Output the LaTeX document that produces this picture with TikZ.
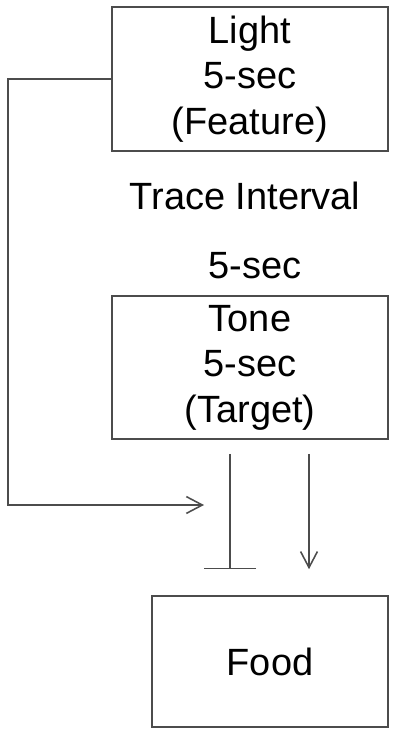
\documentclass[tikz,border=0pt]{standalone}
\usepackage{fontspec}
\setmainfont{Liberation Sans}
\usetikzlibrary{arrows.meta}
\usetikzlibrary{calc}

\begin{document}
\begin{tikzpicture}[x=0.025cm,y=-0.025cm,
  every node/.style={font=\fontsize{27}{32.4}\selectfont,align=center,inner sep=0pt},
  stim/.style={draw=black!70,line width=1.1pt,minimum width=6.9cm,minimum height=3.6cm},
  link/.style={draw=black!70,line width=1.1pt},
  excite/.style={link,-{Straight Barb[length=0.4cm,width=0.42cm,line width=1.1pt]}},
  inhibit/.style={link,-{Bar[width=1.3cm,line width=1.1pt]}}]
\useasboundingbox (0,0) rectangle (400,734);
\node[stim] (light) at (250,79) {Light\\5-sec\\(Feature)};
\node[anchor=base] (trace) at (245,210) {Trace Interval};
\node[anchor=base] (gap) at (255,278) {5-sec};
\node[stim,minimum height=3.575cm] (tone) at (250,367.5) {Tone\\5-sec\\(Target)};
\node[stim,minimum width=5.9cm,minimum height=3.275cm] (food) at (270,661.5) {Food};
\coordinate (join) at (204,505);
\draw[excite] (light.west) -| (8,505) -- (join);
\draw[inhibit] ($(tone.south)+(-20,14)$) -- ($(food.north)+(-40,-26)$);
\draw[excite] ($(tone.south)+(59,14)$) -- ($(food.north)+(39,-26)$);
\end{tikzpicture}
\end{document}
